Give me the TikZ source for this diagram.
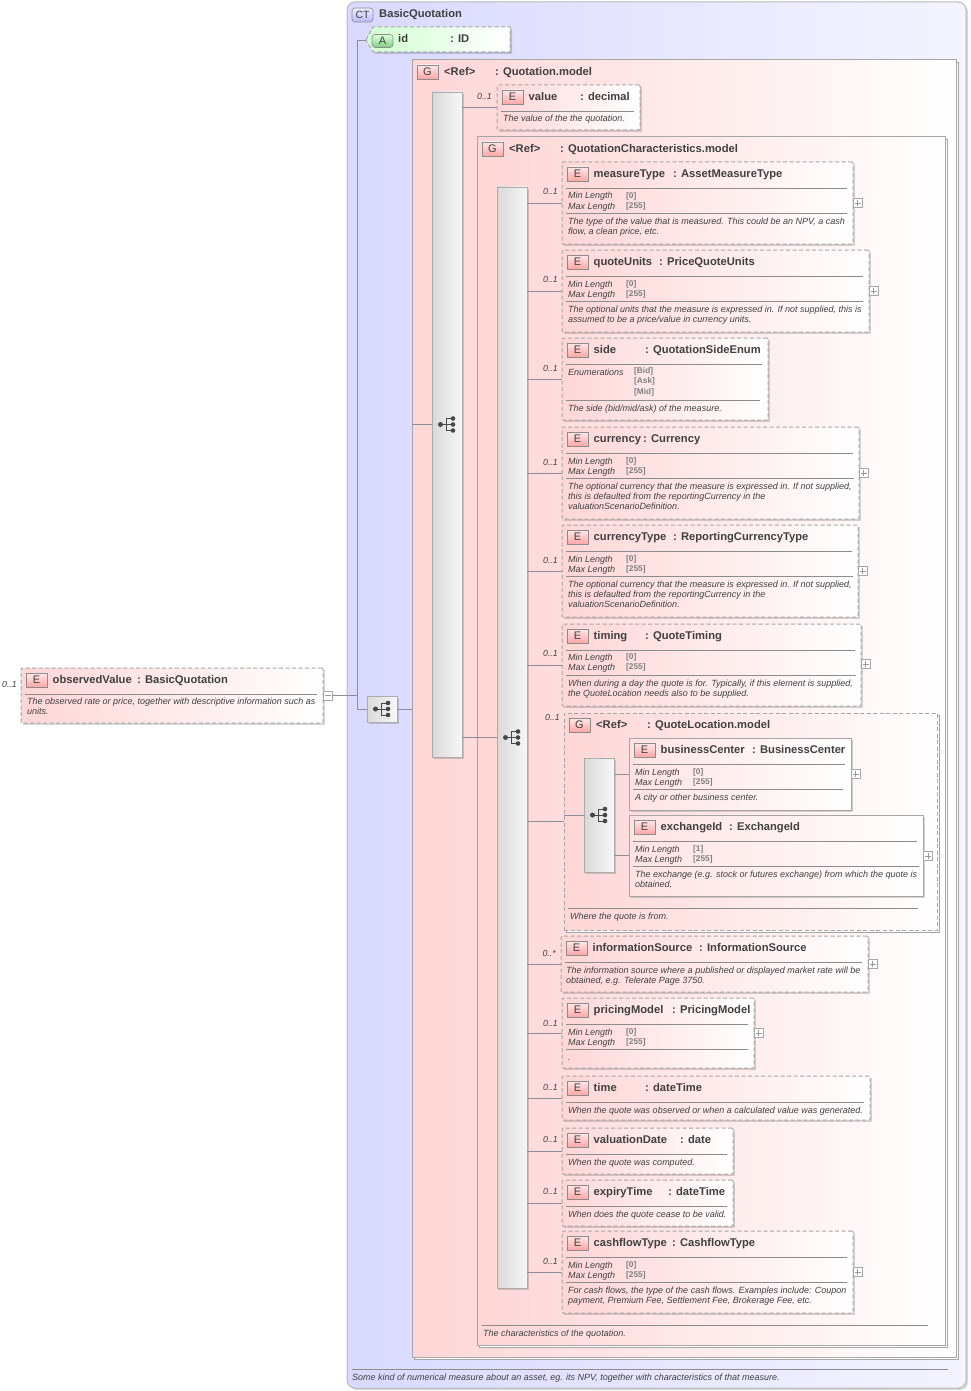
\documentclass[tikz,border=0pt]{standalone}
\usepackage{fontspec}
\setmainfont{Liberation Sans}
\definecolor{txt}{HTML}{404040}
\definecolor{ln}{HTML}{8E8E9A}
\definecolor{rl}{HTML}{8C8C8C}
\definecolor{dsh}{HTML}{A6A6A6}
\definecolor{pk}{HTML}{FFD6D6}
\definecolor{pkm}{HTML}{FFF0F0}
\definecolor{tagt}{HTML}{FFE8E8}
\definecolor{tagb}{HTML}{FFA6A6}
\definecolor{bl}{HTML}{D9D9FF}
\definecolor{blm}{HTML}{E6E6FF}
\definecolor{blr}{HTML}{F4F4FF}
\tikzset{
 conn/.style={draw=ln,line width=.6pt},
 ruleline/.style={draw=rl,line width=.6pt},
 boxbase/.style={inner sep=0pt,outer sep=0pt,anchor=north west},
 dashbox/.style={boxbase,draw=dsh,line width=1pt,dash pattern=on 4pt off 2.5pt,left color=pk,middle color=pkm,right color=white,rounded corners=1pt},
 solidbox/.style={boxbase,draw=dsh,line width=1pt,left color=pk!70!white,middle color=pkm,right color=white},
 groupbox/.style={boxbase,draw=dsh,line width=1pt,left color=pk,middle color=pkm,right color=white},
 shad/.style={fill=black,opacity=.16},
 tagstyle/.style={boxbase,draw=gray!90,line width=.6pt,top color=tagt,bottom color=tagb,text=txt,font=\fontsize{11}{11}\selectfont,minimum width=21pt,minimum height=14pt},
 titletxt/.style={anchor=base west,inner sep=0pt,text=txt,font=\fontsize{11.2}{11}\bfseries\selectfont},
 desctxt/.style={anchor=base west,inner sep=0pt,text=txt,font=\fontsize{9}{10}\itshape\selectfont},
 valtxt/.style={anchor=base west,inner sep=0pt,text=gray,font=\fontsize{8.3}{10}\bfseries\selectfont},
 multtxt/.style={anchor=base east,inner sep=0pt,text=txt,font=\fontsize{8.8}{10}\itshape\selectfont},
 barbox/.style={boxbase,draw=gray!65,line width=.8pt,left color=gray!30,right color=white!97!black},
 plusbox/.style={inner sep=0pt,outer sep=0pt,anchor=west,draw=gray!70,line width=.5pt,fill=white,minimum width=9pt,minimum height=9pt},
}
\newcount\tcnt
\newcommand\txt[4]{\global\advance\tcnt by 1 \node[#1] (t\the\tcnt) at (#2,#3) {#4};}
% shadowed box: style, name, x1,y1,x2,y2
\newcommand\shbox[6]{%
 \fill[shad] ({#3+2},{#4+2}) rectangle ({#5+2.2},{#6+2.2});
 \node[#1,minimum width={(#5-#3)*1pt},minimum height={(#6-#4)*1pt}] (#2) at (#3,#4) {};}
% group shadow box
\newcommand\gbox[6]{%
 \draw[draw=gray!70,fill=white,line width=.8pt] ({#3+2},{#4+2}) rectangle ({#5+2},{#6+2});
 \node[#1,minimum width={(#5-#3)*1pt},minimum height={(#6-#4)*1pt}] (#2) at (#3,#4) {};}
\newcommand\tagb[4]{\node[tagstyle] (#1) at (#2,#3) {#4};}
\newcommand\hr[3]{\draw[ruleline] (#1,#3) -- (#2,#3);}
% element: style,name,x1,y1,x2,y2,title,colonx,type
\newcommand\elem[9]{%
 \shbox{#1}{#2}{#3}{#4}{#5}{#6}
 \tagb{#2tag}{{#3+5}}{{#4+5}}{E}
 \txt{titletxt}{{#3+31.5}}{{#4+15.4}}{#7}
 \txt{titletxt}{#8}{{#4+15.4}}{: #9}
 \hr{{#3+4}}{{#5-6}}{{#4+26}}}
\newcommand\desc[3]{\txt{desctxt}{#1}{{#2+3}}{#3}}
\newcommand\facets[4]{%
 \desc{#1}{#2}{Min Length}\desc{#1}{(#2+10)}{Max Length}
 \txt{valtxt}{{#1+58}}{{#2+2.5}}{#3}\txt{valtxt}{{#1+58}}{{#2+12.5}}{#4}}
\newcommand\mult[3]{\txt{multtxt}{#1}{{#2+3}}{#3}}
\newcommand\plusb[3]{\node[plusbox] (#1) at (#2,#3) {};
 \draw[gray!80,line width=.5pt] ([xshift=-3pt]#1.center) -- ([xshift=3pt]#1.center) ([yshift=-3pt]#1.center) -- ([yshift=3pt]#1.center);}
\newcommand\seqicon[1]{%
 \begin{scope}[shift={(#1.center)}]
 \draw[black!72,line width=.9pt] (-6.5,0) -- (-1,0) (6,-6) -- (-1,-6) -- (-1,6) -- (6,6) (-1,0) -- (6,0);
 \fill[black!72] (-6.5,0) circle (2.5) (6,-6) circle (2.3) (6,0) circle (2.3) (6,6) circle (2.3);
 \end{scope}}
\begin{document}
\begin{tikzpicture}[x=1pt,y=-1pt]
\useasboundingbox (0,0) rectangle (971,1391);
% Complex type
\fill[shad,rounded corners=8pt] (349,4) rectangle (968,1390);
\node[boxbase,draw=gray!55,line width=1pt,rounded corners=8pt,left color=bl,middle color=blm,right color=blr,minimum width=619pt,minimum height=1386pt] (ct) at (347,2) {};
\node[boxbase,draw=gray!90,line width=.6pt,rounded corners=3pt,top color=bl!50!white,bottom color=bl!85!blue,text=txt,font=\fontsize{10.5}{11}\selectfont,minimum width=21pt,minimum height=14pt] (cttag) at (352,8) {CT};
\txt{titletxt}{379}{18}{BasicQuotation}
\hr{352}{948}{1369}
\desc{352}{1377}{Some kind of numerical measure about an asset, eg. its NPV, together with characteristics of that measure.}
% observedValue
\elem{dashbox}{obs}{21}{668}{323}{723}{observedValue}{137}{BasicQuotation}
\desc{27}{701}{The observed rate or price, together with descriptive information such as}
\desc{27}{711}{units.}
\mult{17}{684}{0..1}
\node[plusbox] (obsm) at (323,695.5) {};
\draw[gray!80,line width=.5pt] ([xshift=-3pt]obsm.center) -- ([xshift=3pt]obsm.center);
% compositor under type
\shbox{barbox}{cmp}{367}{696}{397}{722}
\seqicon{cmp}
% attribute id
\coordinate (idtip) at (366,40);
\fill[shad] (368,42) -- (375,29) -- (512,29) -- (512,54) -- (375,54) -- cycle;
\draw[draw=dsh,line width=1pt,dash pattern=on 4pt off 2.5pt,left color=green!18!white,right color=white] (idtip) -- (373,27) -- (510,27) -- (510,52) -- (373,52) -- cycle;
\node[boxbase,draw=gray!90,line width=.6pt,rounded corners=3pt,top color=green!12!white,bottom color=green!45!gray!70!white,text=txt,font=\fontsize{11}{11}\selectfont,minimum width=21pt,minimum height=13pt] (attag) at (372,34.5) {A};
\txt{titletxt}{398}{43}{id}
\txt{titletxt}{450}{43}{: ID}
% connectors of the type
\coordinate (jn) at (357,695.5);
\draw[conn] (obsm.east) -- (jn);
\draw[conn] (idtip) -| (jn);
\draw[conn] (jn) |- (cmp.west);
% Group Quotation.model
\gbox{groupbox}{g1}{412}{60}{956}{1357}
\draw[conn] (cmp.east) -- (g1.west |- cmp.east);
\tagb{g1tag}{417}{65}{G}
\txt{titletxt}{444}{76}{<Ref>}
\txt{titletxt}{495}{76}{: Quotation.model}
\shbox{barbox}{bar1}{432}{92}{462}{757}
\seqicon{bar1}
\draw[conn] (g1.west |- bar1.west) -- (bar1.west);
% value
\elem{dashbox}{value}{497}{85}{640}{130}{value}{580}{decimal}
\desc{503}{119}{The value of the the quotation.}
\mult{492}{97}{0..1}
\draw[conn] (bar1.east |- value.west) -- (value.west);
% Group QuotationCharacteristics
\gbox{groupbox}{g2}{477}{137}{945}{1345}
\tagb{g2tag}{482}{142}{G}
\txt{titletxt}{509}{153}{<Ref>}
\txt{titletxt}{560}{153}{: QuotationCharacteristics.model}
\shbox{barbox}{bar2}{497}{187}{527}{1288}
\seqicon{bar2}
\draw[conn] (bar1.east |- bar2.west) -- (bar2.west);
\hr{482}{928}{1325}
\desc{483}{1333}{The characteristics of the quotation.}
% measureType
\elem{dashbox}{e1}{562}{162}{853}{244}{measureType}{673}{AssetMeasureType}
\facets{568}{196}{[0]}{[255]}
\hr{566}{847}{213}
\desc{568}{221}{The type of the value that is measured. This could be an NPV, a cash}
\desc{568}{231}{flow, a clean price, etc.}
\plusb{e1p}{853}{203}
\mult{558}{191}{0..1}
% quoteUnits
\elem{dashbox}{e2}{562}{250}{869}{332}{quoteUnits}{659}{PriceQuoteUnits}
\facets{568}{284}{[0]}{[255]}
\hr{566}{863}{301}
\desc{568}{309}{The optional units that the measure is expressed in. If not supplied, this is}
\desc{568}{319}{assumed to be a price/value in currency units.}
\plusb{e2p}{869}{291}
\mult{558}{279}{0..1}
% side
\elem{dashbox}{e3}{562}{338}{768}{420}{side}{645}{QuotationSideEnum}
\desc{568}{372}{Enumerations}
\txt{valtxt}{634}{373.5}{[Bid]}
\txt{valtxt}{634}{383.5}{[Ask]}
\txt{valtxt}{634}{394.5}{[Mid]}
\hr{566}{760}{400}
\desc{568}{408}{The side (bid/mid/ask) of the measure.}
\mult{558}{368}{0..1}
% currency
\elem{dashbox}{e4}{562}{427}{859}{519}{currency}{643}{Currency}
\facets{568}{461}{[0]}{[255]}
\hr{566}{854}{478}
\desc{568}{486}{The optional currency that the measure is expressed in. If not supplied,}
\desc{568}{496}{this is defaulted from the reportingCurrency in the}
\desc{568}{506}{valuationScenarioDefinition.}
\plusb{e4p}{859}{473}
\mult{558}{462}{0..1}
% currencyType
\elem{dashbox}{e5}{562}{525}{858}{617}{currencyType}{673}{ReportingCurrencyType}
\facets{568}{559}{[0]}{[255]}
\hr{566}{853}{576}
\desc{568}{584}{The optional currency that the measure is expressed in. If not supplied,}
\desc{568}{594}{this is defaulted from the reportingCurrency in the}
\desc{568}{604}{valuationScenarioDefinition.}
\plusb{e5p}{858}{571}
\mult{558}{560}{0..1}
% timing
\elem{dashbox}{e6}{562}{624}{861}{706}{timing}{645}{QuoteTiming}
\facets{568}{657}{[0]}{[255]}
\hr{566}{856}{675}
\desc{568}{683}{When during a day the quote is for. Typically, if this element is supplied,}
\desc{568}{693}{the QuoteLocation needs also to be supplied.}
\plusb{e6p}{861}{664}
\mult{558}{653}{0..1}
% QuoteLocation group
\gbox{groupbox,dash pattern=on 4pt off 2.5pt}{g3}{564}{713}{937}{930}
\tagb{g3tag}{569}{718}{G}
\txt{titletxt}{596}{728.5}{<Ref>}
\txt{titletxt}{647}{728.5}{: QuoteLocation.model}
\mult{560}{717}{0..1}
\shbox{barbox}{bar3}{584}{758}{614}{872}
\seqicon{bar3}
\draw[conn] (bar2.east |- g3.west) -- (g3.west);
\draw[conn] (g3.west |- bar3.west) -- (bar3.west);
\elem{solidbox}{bc}{629}{738}{851}{810}{businessCenter}{752}{BusinessCenter}
\facets{635}{772}{[0]}{[255]}
\hr{633}{843}{789}
\desc{635}{797}{A city or other business center.}
\plusb{bcp}{851}{774}
\elem{solidbox}{ex}{629}{815}{923}{896}{exchangeId}{729}{ExchangeId}
\facets{635}{849}{[1]}{[255]}
\hr{633}{919}{866}
\desc{635}{874}{The exchange (e.g. stock or futures exchange) from which the quote is}
\desc{635}{884}{obtained.}
\plusb{exp}{923.5}{856}
\draw[conn] (bar3.east |- bc.west) -- (bc.west);
\draw[conn] (bar3.east |- ex.west) -- (ex.west);
\hr{568}{918}{908}
\desc{570}{916}{Where the quote is from.}
% informationSource
\elem{dashbox}{e7}{561}{936}{868}{992}{informationSource}{699}{InformationSource}
\desc{566}{970}{The information source where a published or displayed market rate will be}
\desc{566}{980}{obtained, e.g. Telerate Page 3750.}
\plusb{e7p}{868}{964}
\mult{556}{953}{0..*}
% pricingModel
\elem{dashbox}{e8}{562}{998}{754}{1068}{pricingModel}{672}{PricingModel}
\facets{568}{1032}{[0]}{[255]}
\hr{566}{748}{1049}
\desc{568}{1057}{.}
\plusb{e8p}{754}{1033}
\mult{558}{1023}{0..1}
% time
\elem{dashbox}{e9}{562}{1076}{870}{1120}{time}{645}{dateTime}
\desc{568}{1110}{When the quote was observed or when a calculated value was generated.}
\mult{558}{1087}{0..1}
% valuationDate
\elem{dashbox}{e10}{562}{1128}{733}{1174}{valuationDate}{680}{date}
\desc{568}{1162}{When the quote was computed.}
\mult{558}{1139}{0..1}
% expiryTime
\elem{dashbox}{e11}{562}{1180}{733}{1226}{expiryTime}{668}{dateTime}
\desc{568}{1214}{When does the quote cease to be valid.}
\mult{558}{1191}{0..1}
% cashflowType
\elem{dashbox}{e12}{562}{1231}{853}{1313}{cashflowType}{672}{CashflowType}
\facets{568}{1265}{[0]}{[255]}
\hr{566}{847}{1282}
\desc{568}{1290}{For cash flows, the type of the cash flows. Examples include: Coupon}
\desc{568}{1300}{payment, Premium Fee, Settlement Fee, Brokerage Fee, etc.}
\plusb{e12p}{853}{1272}
\mult{558}{1261}{0..1}
% element connectors
\foreach \n in {e1,e2,e3,e4,e5,e6,e7,e8,e9,e10,e11,e12}{
 \draw[conn] (bar2.east |- \n.west) -- (\n.west);
}
\end{tikzpicture}
\end{document}
